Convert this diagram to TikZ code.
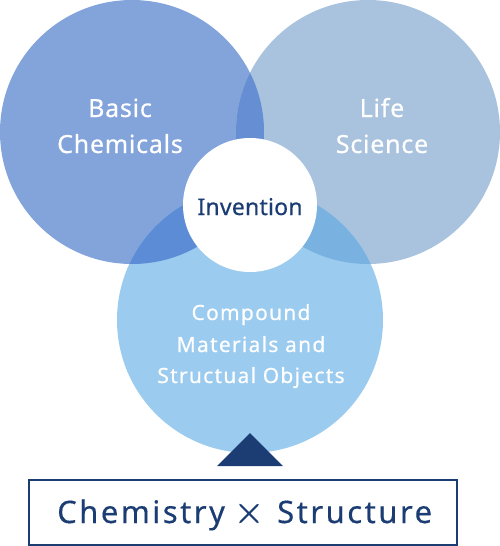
\documentclass[tikz,border=0pt]{standalone}
\usepackage{fontspec}
\setmainfont{Noto Sans}
\newfontfamily\bigfont[LetterSpace=3,FakeBold=0.5]{Noto Sans}
\newfontfamily\midfont[LetterSpace=6,FakeBold=0.5]{Noto Sans}
\newfontfamily\invfont[LetterSpace=1,FakeBold=0.6]{Noto Sans}
\newfontfamily\boxfont[LetterSpace=8,FakeBold=0.4]{Noto Sans}
\newfontfamily\lmfont[FakeBold=1]{Latin Modern Roman}
\definecolor{cleft}{HTML}{83A3DB}
\definecolor{cright}{HTML}{A9C3DE}
\definecolor{cbottom}{HTML}{9BCBEE}
\definecolor{clr}{HTML}{668ED3}
\definecolor{clb}{HTML}{5C8CD6}
\definecolor{crb}{HTML}{79B2E0}
\definecolor{navy}{HTML}{1B3D73}
\tikzset{
  bigtext/.style={text=white, font=\bigfont\fontsize{25}{36}\selectfont, anchor=base, inner sep=0pt},
  midtext/.style={text=white, font=\midfont\fontsize{21}{32}\selectfont, anchor=base, inner sep=0pt},
  boxtext/.style={text=navy, font=\boxfont\fontsize{31}{36}\selectfont, anchor=base west, inner sep=0pt},
}
\begin{document}
\begin{tikzpicture}[x=1pt,y=-1pt]
\useasboundingbox (0,0) rectangle (500,546);
% circles
\path[fill=cleft] (132,132) circle (132);
\path[fill=cright] (368,132) circle (132);
\path[fill=cbottom] (250,320) circle (133);
% overlaps
\begin{scope}
  \clip (132,132) circle (132);
  \path[fill=clr] (368,132) circle (132);
\end{scope}
\begin{scope}
  \clip (132,132) circle (132);
  \path[fill=clb] (250,320) circle (133);
\end{scope}
\begin{scope}
  \clip (368,132) circle (132);
  \path[fill=crb] (250,320) circle (133);
\end{scope}
% center
\node[circle, fill=white, minimum size=134pt, inner sep=0pt] (inv) at (250,205) {};
\node[text=navy, font=\invfont\fontsize{23}{28}\selectfont, anchor=base, inner sep=0pt] (invtext) at (250,215) {Invention};
% labels
\node[bigtext] (basic) at (120,117) {Basic};
\node[bigtext] (chem) at (120,153) {Chemicals};
\node[bigtext] (life) at (382,117) {Life};
\node[bigtext] (sci) at (382,153) {Science};
\node[midtext] (comp1) at (251,320) {Compound};
\node[midtext] (comp2) at (251,352) {Materials and};
\node[midtext] (comp3) at (251,383) {Structual Objects};
% triangle
\coordinate (tri) at (250,433);
\path[fill=navy] (tri) -- (283,466) -- (217,466) -- cycle;
% box
\node[draw=navy, line width=1.2pt, minimum width=428pt, minimum height=65pt, inner sep=0pt] (box) at (243,512.5) {};
\node[boxtext] (bt1) at (57,523) {Chemistry};
\node[text=navy, font=\lmfont\fontsize{42}{42}\selectfont, anchor=base, inner sep=0pt] (times) at (249,524) {×};
\node[boxtext] (bt2) at (277,523) {Structure};
\end{tikzpicture}
\end{document}
